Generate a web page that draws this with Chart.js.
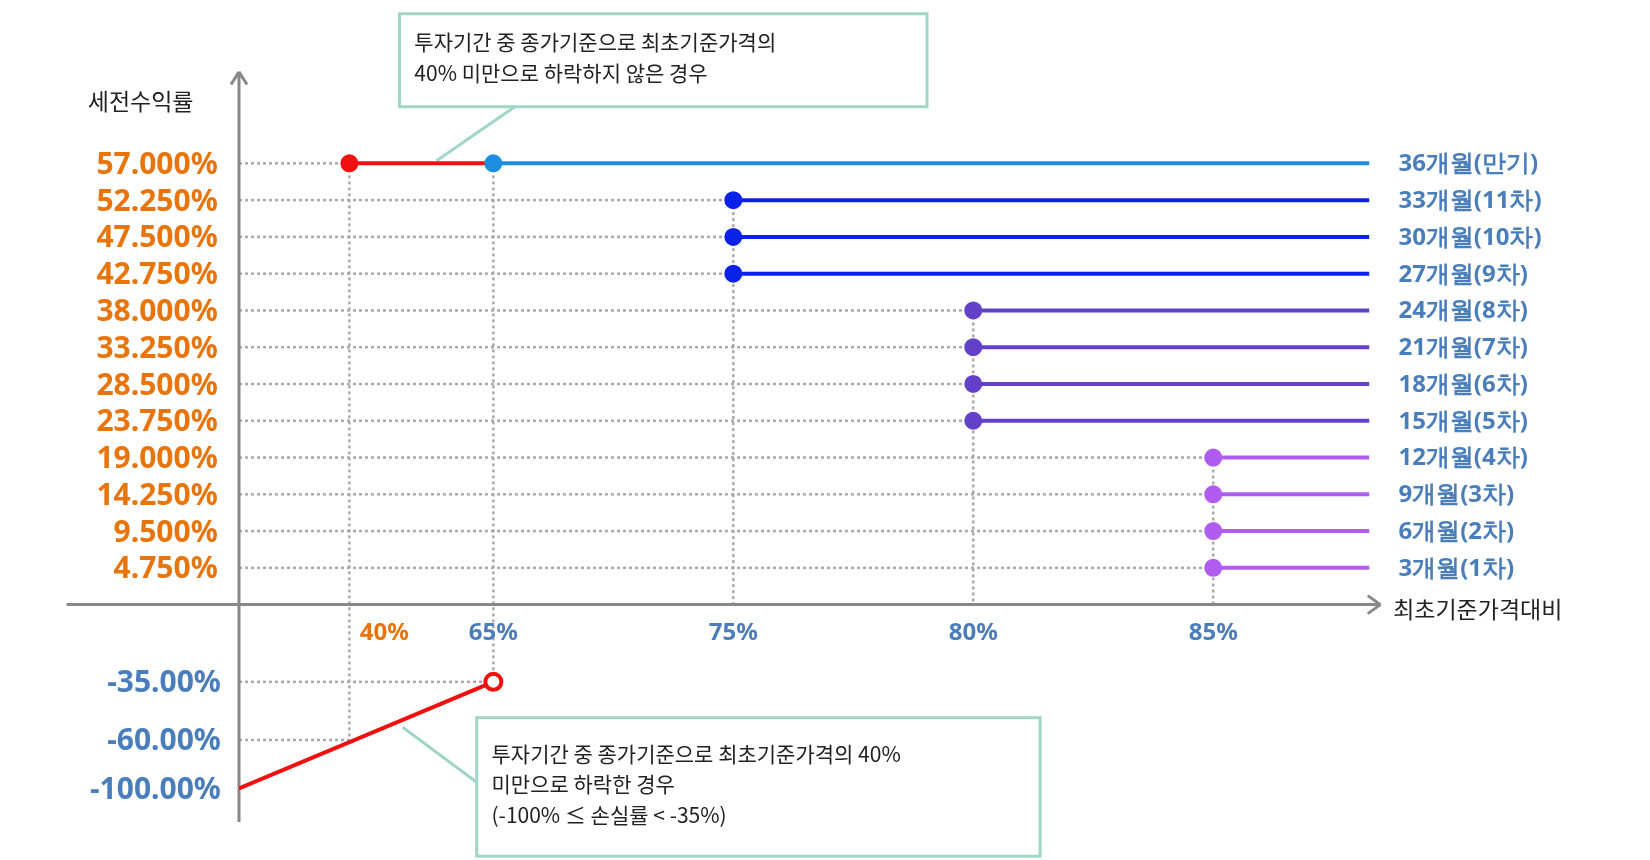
<!DOCTYPE html>
<html><head><meta charset="utf-8">
<script src="https://cdn.jsdelivr.net/npm/chart.js@4"></script>
<style>body{margin:0;background:#fff}canvas{display:block}</style>
</head><body>
<canvas id="c" width="1650" height="860"></canvas>
<script>
// payout schedule
var periods = ['3개월(1차)','6개월(2차)','9개월(3차)','12개월(4차)','15개월(5차)','18개월(6차)','21개월(7차)','24개월(8차)','27개월(9차)','30개월(10차)','33개월(11차)','36개월(만기)'];
var returns = [4.75, 9.5, 14.25, 19, 23.75, 28.5, 33.25, 38, 42.75, 47.5, 52.25, 57];
var barrier = ['85%','85%','85%','85%','80%','80%','80%','80%','75%','75%','75%','65%'];
var lossTicks = [-35, -60, -100];
var levelLabels = ['40%','65%','75%','80%','85%'];
var levelColors = ['#e8740c','#4a7ebb','#4a7ebb','#4a7ebb','#4a7ebb'];

// axis mapping (diagram is not to scale)
var levelPos = {'40%':0.46,'65%':1.06,'75%':2.06,'80%':3.06,'85%':4.06};
var lineEnd = 4.71;
var lossRows = {'-35':-2.1,'-60':-3.68,'-100':-5.0};
function toY(v){ return v >= 0 ? v/4.75 : lossRows[String(v)]; }
function colorFor(b){ return {'65%':'#1e8ee0','75%':'#0a22e8','80%':'#6240c8','85%':'#b05cf0'}[b]; }
var S = 1.057;
function P(v){ return v*S; }

var datasets = [];
returns.forEach(function(r,i){
  var c = colorFor(barrier[i]);
  datasets.push({data:[{x:levelPos[barrier[i]],y:toY(r)},{x:lineEnd,y:toY(r)}],borderColor:c,backgroundColor:c,
    borderWidth:4,showLine:true,pointRadius:[7,0]});
});
datasets.push({data:[{x:levelPos['40%'],y:toY(57)},{x:levelPos['65%'],y:toY(57)}],borderColor:'#f01010',backgroundColor:'#f01010',
  borderWidth:4,showLine:true,pointRadius:[7,0]});
datasets.push({data:[{x:0,y:toY(-100)},{x:levelPos['65%'],y:toY(-35)}],borderColor:'#f01010',backgroundColor:'#fff',
  borderWidth:4,showLine:true,pointRadius:[0,8],pointBorderWidth:4});

var deco = {
  id:'deco',
  beforeDatasetsDraw:function(ch){
    var x = ch.scales.x, y = ch.scales.y, g = ch.ctx;
    var x0 = x.getPixelForValue(0), y0 = y.getPixelForValue(0);
    g.save();
    g.strokeStyle = '#aaa'; g.lineWidth = 2.5; g.setLineDash([3,3]);
    function ln(a,b,c,d){ g.beginPath(); g.moveTo(a,b); g.lineTo(c,d); g.stroke(); }
    var topOf = {};
    returns.forEach(function(r,i){
      var py = y.getPixelForValue(toY(r));
      var px = x.getPixelForValue(i==11 ? levelPos['40%'] : levelPos[barrier[i]]);
      ln(x0, py, px, py);
      topOf[barrier[i]] = py;
    });
    ['75%','80%','85%'].forEach(function(l){
      var px = x.getPixelForValue(levelPos[l]);
      ln(px, topOf[l], px, y0);
    });
    var p40 = x.getPixelForValue(levelPos['40%']), p65 = x.getPixelForValue(levelPos['65%']);
    var t57 = y.getPixelForValue(toY(57));
    ln(p40, t57, p40, y.getPixelForValue(toY(-60)));
    ln(p65, t57, p65, y.getPixelForValue(toY(-35)));
    ln(x0, y.getPixelForValue(toY(-35)), p65, y.getPixelForValue(toY(-35)));
    ln(x0, y.getPixelForValue(toY(-60)), p40, y.getPixelForValue(toY(-60)));
    g.setLineDash([]);
    // axes
    g.strokeStyle = '#888'; g.lineWidth = 3;
    ln(x0, ch.chartArea.bottom + 3, x0, P(68));
    ln(P(63), y0, P(1305), y0);
    ln(x0-8, P(80), x0, P(68)); ln(x0+8, P(80), x0, P(68));
    ln(P(1294), y0-9, P(1306), y0); ln(P(1294), y0+9, P(1306), y0);
    // tick labels
    g.font = 'bold 30px "Noto Sans"'; g.textAlign = 'right'; g.textBaseline = 'middle';
    g.fillStyle = '#e8740c';
    returns.forEach(function(r){ g.fillText(r.toFixed(3)+'%', P(206), y.getPixelForValue(toY(r))+2); });
    g.fillStyle = '#4a7ebb';
    lossTicks.forEach(function(v){ g.fillText(v.toFixed(2)+'%', P(209), y.getPixelForValue(toY(v))+2); });
    g.font = 'bold 24px "Noto Sans"'; g.textAlign = 'center';
    levelLabels.forEach(function(l,i){ g.fillStyle = levelColors[i];
      g.fillText(l, x.getPixelForValue(levelPos[l]) + (i==0?P(33):0), y0+P(27)); });
    g.textAlign = 'left';
    g.fillStyle = '#4a7ebb';
    periods.forEach(function(p,i){ g.fillText(p, P(1323), y.getPixelForValue(toY(returns[i]))+1); });
    g.fillStyle = '#222'; g.font = '23px "Noto Sans CJK KR"';
    g.fillText('세전수익률', P(83), P(96));
    g.fillText('최초기준가격대비', P(1318), P(576));
    // callouts
    g.strokeStyle = '#9fd6c6'; g.lineWidth = 3;
    ln(P(487), P(101), P(413), P(152));
    ln(P(451), P(740), P(381), P(688));
    g.fillStyle = '#fff';
    g.fillRect(P(378), P(13), P(499), P(88)); g.strokeRect(P(378), P(13), P(499), P(88));
    g.fillRect(P(451), P(679), P(533), P(131)); g.strokeRect(P(451), P(679), P(533), P(131));
    g.fillStyle = '#222'; g.font = '21px "Noto Sans CJK KR"';
    g.fillText('투자기간 중 종가기준으로 최초기준가격의', P(392), P(40));
    g.fillText('40% 미만으로 하락하지 않은 경우', P(392), P(69));
    g.fillText('투자기간 중 종가기준으로 최초기준가격의 40%', P(465), P(713));
    g.fillText('미만으로 하락한 경우', P(465), P(742));
    g.fillText('(-100% ≤ 손실률 < -35%)', P(465), P(771));
    g.restore();
  }
};

new Chart(document.getElementById('c').getContext('2d'), {
  type:'scatter',
  data:{datasets:datasets},
  options:{
    responsive:false, animation:false,
    layout:{padding:{left:Math.round(P(226)), right:1650-Math.round(P(1300)), top:Math.round(P(70)), bottom:860-Math.round(P(775))}},
    plugins:{legend:{display:false}, tooltip:{enabled:false}},
    scales:{
      x:{type:'linear', min:0, max:4.73, display:false},
      y:{type:'linear', min:-5.83, max:14.43, display:false}
    }
  },
  plugins:[deco]
});
</script>
</body></html>
